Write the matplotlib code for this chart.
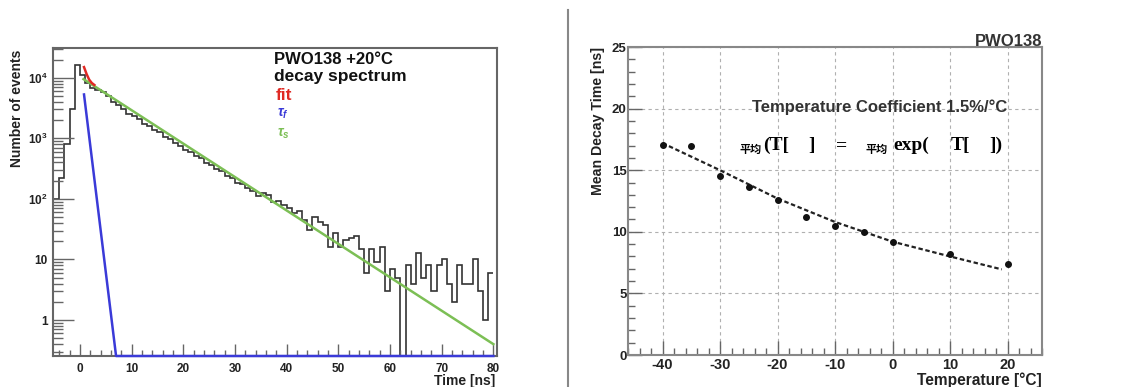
import numpy as np
import matplotlib.pyplot as plt
from matplotlib.ticker import MultipleLocator, LogLocator, NullFormatter

plt.rcParams['font.family'] = ['Liberation Sans', 'DejaVu Sans']
plt.rcParams['font.weight'] = 'bold'
plt.rcParams['axes.unicode_minus'] = False
plt.rcParams['mathtext.fontset'] = 'custom'
plt.rcParams['mathtext.rm'] = 'Liberation Sans:bold'
plt.rcParams['mathtext.it'] = 'Liberation Sans:italic:bold'

# ---- decay spectrum (1 ns bins) ----
time_edges = np.arange(-5, 81, 1)
counts = [100, 220, 800, 3000, 16000, 11000, 8300, 6800, 6200, 5900,
          5000, 4000, 3500, 3000, 2500, 2350, 2050, 1750, 1620, 1380,
          1250, 1060, 990, 830, 760, 650, 600, 505, 470, 395,
          360, 310, 285, 240, 225, 185, 175, 150, 135, 112,
          125, 118, 88, 92, 78, 71, 58, 62, 45, 31,
          51, 42, 37, 16, 27, 16, 21, 23, 24, 15,
          6, 15, 9, 16, 3, 7, 5, 0, 8, 4,
          13, 5, 8, 3, 8, 10, 4, 2, 8, 4,
          4, 10, 3, 1, 6]

fit_t = [0.8, 1.3, 1.8, 2.3, 2.8]
fit_n = [15000, 11500, 9300, 8200, 7600]
fast_t = [0.8, 7.0, 80.0]
fast_n = [5300, 0.255, 1e-12]
slow_t = [0.7, 80.0]
slow_n = [9500, 0.4]

# ---- mean decay time vs temperature ----
temps = [-40, -35, -30, -25, -20, -15, -10, -5, 0, 10, 20]
tau = [17.05, 17.0, 14.5, 13.6, 12.6, 11.2, 10.5, 9.95, 9.15, 8.2, 7.4]
curve_t = [-40, -30, -20, -10, 0, 10, 19]
curve_tau = [17.2, 15.0, 12.7, 10.8, 9.2, 8.0, 6.95]

W, H = 1136, 387
fig = plt.figure(figsize=(W / 100, H / 100), dpi=100)


def px(x, y):
    return x / W, 1 - y / H


frame = '#666666'

# left panel
ax1 = fig.add_axes([53 / W, 31 / H, 444 / W, 308 / H])
ax1.set_yscale('log')
ymin = 0.255
ax1.set_xlim(-5.2, 80.7)
ax1.set_ylim(ymin, 3.1e4)
ax1.stairs(counts, time_edges, baseline=None, color='#333333', lw=1.2)
ax1.plot(slow_t, slow_n, color='#7cbf55', lw=1.8)
ax1.plot(fast_t, np.maximum(fast_n, ymin), color='#3a3ad8', lw=1.8,
         clip_on=False, zorder=5)
ax1.plot(fit_t, fit_n, color='#e02a24', lw=1.8)

ax1.set_xticks(range(0, 81, 10))
ax1.xaxis.set_minor_locator(MultipleLocator(2))
ax1.set_yticks([1, 10, 100, 1000, 10000],
               ['1', '10', r'$10^{2}$', r'$10^{3}$', r'$10^{4}$'])
ax1.yaxis.set_minor_locator(LogLocator(subs=np.arange(2, 10)))
ax1.yaxis.set_minor_formatter(NullFormatter())
ax1.tick_params(axis='both', which='both', direction='in', colors=frame,
                labelcolor='#222222', labelsize=8.5)
ax1.tick_params(axis='y', which='major', length=15, width=1, pad=4)
ax1.tick_params(axis='y', which='minor', length=7, width=1)
ax1.tick_params(axis='x', which='major', length=9, width=1, pad=5)
ax1.tick_params(axis='x', which='minor', length=4.5, width=1)
for s in ax1.spines.values():
    s.set_color(frame)
    s.set_linewidth(1.5)

fig.text(*px(17, 50), 'Number of events', rotation=90, ha='center',
         va='top', fontsize=10, color='#222222')
fig.text(*px(495, 381), 'Time [ns]', ha='right', va='center',
         fontsize=10, color='#222222')
fig.text(*px(274, 60), 'PWO138 +20°C', ha='left', va='center',
         fontsize=12, color='#111111')
fig.text(*px(274, 77), 'decay spectrum', ha='left', va='center',
         fontsize=12.5, color='#111111')
fig.text(*px(276, 95), 'fit', ha='left', va='center',
         fontsize=12.5, color='#e02a24')
fig.text(*px(277, 114), r'$\tau_{f}$', ha='left', va='center',
         fontsize=10, color='#3a3ad8')
fig.text(*px(277, 134), r'$\tau_{s}$', ha='left', va='center',
         fontsize=10, color='#7cbf55')

# separator between the panels
fig.add_artist(plt.Line2D([568 / W, 568 / W], [0, 1 - 10 / H],
                          color='#888888', lw=1.5))

# right panel
ax2 = fig.add_axes([628 / W, 32 / H, 414 / W, 308 / H])
ax2.set_xlim(-46, 26)
ax2.set_ylim(0, 25)
ax2.grid(True, which='major', ls=(0, (3, 3)), color='#b0b0b0', lw=0.8)
ax2.plot(curve_t, curve_tau, color='#222222', ls=(0, (2, 1.2)), lw=1.6)
ax2.plot(temps, tau, 'o', color='#111111', ms=4)

ax2.set_xticks(range(-40, 21, 10))
ax2.xaxis.set_minor_locator(MultipleLocator(2))
ax2.set_yticks(range(0, 26, 5))
ax2.yaxis.set_minor_locator(MultipleLocator(1))
ax2.tick_params(axis='both', which='both', direction='in', colors=frame,
                labelcolor='#222222')
ax2.tick_params(axis='x', which='major', length=10, width=1, pad=2,
                labelsize=10.5)
ax2.tick_params(axis='x', which='minor', length=5, width=1)
ax2.tick_params(axis='y', which='major', length=10, width=1, pad=1,
                labelsize=9.5)
ax2.tick_params(axis='y', which='minor', length=5, width=1)
for s in ax2.spines.values():
    s.set_color('#888888')
    s.set_linewidth(1.5)

fig.text(*px(1042, 42), 'PWO138', ha='right', va='center', fontsize=12,
         color='#333333')
fig.text(*px(598, 47), 'Mean Decay Time [ns]', rotation=90, ha='center',
         va='top', fontsize=10.2, color='#222222')
fig.text(*px(1042, 380), 'Temperature [°C]', ha='right', va='center',
         fontsize=11.2, color='#222222')
fig.text(*px(880, 107), 'Temperature Coefficient 1.5%/°C', ha='center',
         va='center', fontsize=12, color='#333333')

# formula line
cjk = ['Noto Sans CJK SC', 'DejaVu Sans']
serif = ['Liberation Serif', 'DejaVu Serif']
base = 150
fig.text(*px(740, 149), '平均', family=cjk, fontsize=8, va='center')
fig.text(*px(763, base), '(T[', family=serif, fontsize=14, va='baseline')
fig.text(*px(808, base), ']', family=serif, fontsize=14, va='baseline')
fig.text(*px(836, base), '=', family=serif, fontsize=14, va='baseline')
fig.text(*px(866, 149), '平均', family=cjk, fontsize=8, va='center')
fig.text(*px(893, base), 'exp(', family=serif, fontsize=14, va='baseline')
fig.text(*px(951, base), 'T[', family=serif, fontsize=14, va='baseline')
fig.text(*px(989, base), '])', family=serif, fontsize=14, va='baseline')

fig.savefig('out.png', dpi=100)
